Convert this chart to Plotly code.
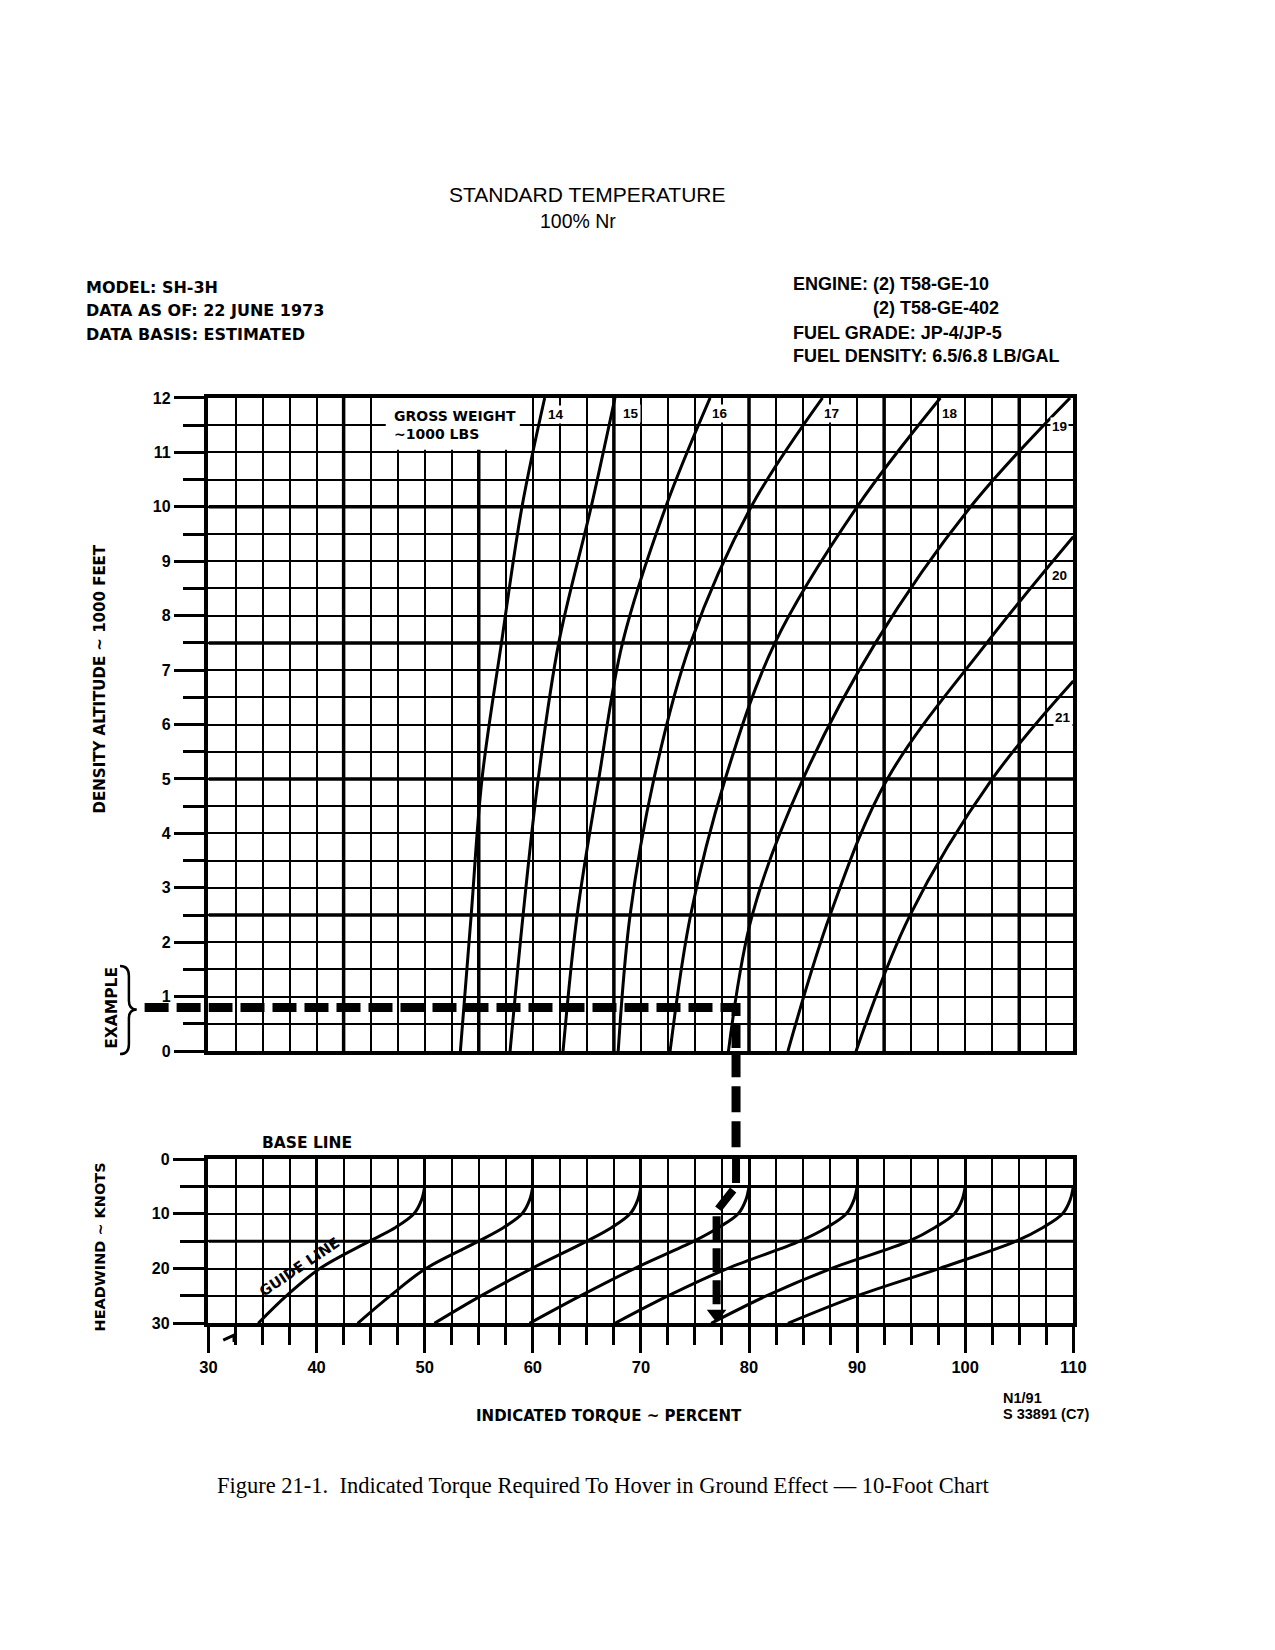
import plotly.graph_objects as go

# Upper chart: torque (%) vs density altitude (1000 ft) for each gross weight
alt = [0, 2.5, 5, 7.5, 10, 12]
gw_14 = [53.3, 54.3, 55.3, 57.1, 59.0, 61.1]
gw_15 = [57.9, 59.1, 60.5, 62.4, 65.4, 67.6]
gw_16 = [62.8, 64.1, 66.1, 68.3, 72.3, 76.4]
gw_17 = [67.9, 69.0, 71.2, 74.6, 80.2, 86.8]
gw_18 = [72.7, 74.6, 77.8, 82.4, 90.0, 97.7]
gw_19 = [78.1, 80.3, 85.0, 91.7, 100.5, 109.7]
alt_20 = [0, 2.5, 5, 7.5, 9.45]
gw_20 = [83.6, 87.5, 92.8, 102.0, 110.0]
alt_21 = [0, 2.5, 5, 6.8]
gw_21 = [89.9, 94.9, 102.5, 110.0]
gw_labels = ["14", "15", "16", "17", "18", "19", "20", "21"]

# Lower chart: headwind correction guide lines (torque % vs headwind knots)
headwind = [5, 7.5, 10, 12.5, 15, 20, 25, 30]
guide_50 = [50.0, 49.7, 49.0, 47.3, 44.9, 40.3, 37.2, 34.6]
guide_60 = [60.0, 59.7, 59.0, 57.3, 55.0, 50.1, 46.8, 43.8]
guide_70 = [70.0, 69.7, 69.0, 67.3, 65.0, 59.9, 55.2, 50.9]
guide_80 = [80.0, 79.7, 79.0, 77.2, 74.9, 69.4, 64.4, 59.7]
guide_90 = [90.0, 89.7, 89.0, 87.2, 84.7, 78.0, 72.5, 67.6]
guide_100 = [100.0, 99.7, 99.0, 97.2, 94.8, 87.6, 81.6, 76.5]
guide_110 = [110.0, 109.7, 109.0, 107.2, 104.7, 97.6, 90.0, 83.6]

# Worked example: 19,000 lb at 800 ft, 10 kt headwind -> about 77 %
ex_torque = [30, 78.8, 78.8]
ex_alt = [0.8, 0.8, 0]
ex_hw_torque = [78.8, 78.8, 77.0, 77.0]
ex_hw = [0, 5, 9.5, 27.5]
ex_result = [77.0]
ex_result_hw = [28.3]

W, H = 1275, 1650


def px(x):
    return x / W


def py(y):
    return 1 - y / H


up_dom = [py(1054), py(394)]
lo_dom = [py(1329), py(1163)]
x_dom = [px(203), px(1083)]

fig = go.Figure()

curve = dict(color="black", width=3, shape="spline")
for xs, ys in [(gw_14, alt), (gw_15, alt), (gw_16, alt), (gw_17, alt),
               (gw_18, alt), (gw_19, alt), (gw_20, alt_20), (gw_21, alt_21)]:
    fig.add_trace(go.Scatter(x=xs, y=ys, mode="lines", line=curve,
                             xaxis="x", yaxis="y", hoverinfo="skip"))

for xs in [guide_50, guide_60, guide_70, guide_80, guide_90, guide_100, guide_110]:
    fig.add_trace(go.Scatter(x=xs, y=headwind, mode="lines", line=curve,
                             xaxis="x2", yaxis="y2", hoverinfo="skip"))

# example path
ex_line = dict(color="black", width=9, dash="24px,8px")
fig.add_trace(go.Scatter(x=ex_torque, y=ex_alt, mode="lines", line=ex_line,
                         xaxis="x", yaxis="y", hoverinfo="skip"))
fig.add_trace(go.Scatter(x=ex_hw_torque, y=ex_hw, mode="lines",
                         line=dict(ex_line, width=8),
                         xaxis="x2", yaxis="y2", hoverinfo="skip"))
fig.add_trace(go.Scatter(x=ex_result, y=ex_result_hw, mode="markers", cliponaxis=False,
                         marker=dict(symbol="triangle-down", size=17, color="black"),
                         xaxis="x2", yaxis="y2", hoverinfo="skip"))

tick_font = dict(family="Liberation Sans", size=16.5, color="black", weight="bold")
frame = dict(showgrid=True, gridcolor="black", gridwidth=2, zeroline=False,
             showline=True, linecolor="black", linewidth=3.5, mirror=True,
             fixedrange=True)

fig.update_layout(
    width=W, height=H,
    margin=dict(l=0, r=0, t=0, b=0),
    paper_bgcolor="white", plot_bgcolor="white",
    showlegend=False,
    xaxis=dict(frame, domain=x_dom, range=[30, 110], anchor="y",
               tick0=30, dtick=2.5, ticks="", showticklabels=False),
    yaxis=dict(frame, domain=up_dom, range=[0, 12], anchor="x",
               tick0=0, dtick=1, ticks="outside", ticklen=31, tickwidth=2.5,
               tickcolor="black", tickfont=dict(tick_font, size=16),
               minor=dict(dtick=0.5, ticks="outside", ticklen=22, tickwidth=2.5,
                          tickcolor="black", showgrid=True, gridcolor="black",
                          gridwidth=2)),
    xaxis2=dict(frame, domain=x_dom, range=[30, 110], anchor="y2",
                tick0=30, dtick=10, ticks="outside", ticklen=26, tickwidth=2.5,
                tickcolor="black", tickfont=tick_font, gridwidth=2.5,
                minor=dict(dtick=2.5, ticks="outside", ticklen=18, tickwidth=2.5,
                           tickcolor="black", showgrid=True, gridcolor="black",
                           gridwidth=2)),
    yaxis2=dict(frame, domain=lo_dom, range=[30, 0], anchor="x2",
                tick0=0, dtick=10, ticks="outside", ticklen=32, tickwidth=2.5,
                tickcolor="black", tickfont=dict(tick_font, size=16),
                minor=dict(dtick=5, ticks="outside", ticklen=25, tickwidth=2.5,
                           tickcolor="black", showgrid=True, gridcolor="black",
                           gridwidth=2)),
)

# heavy grid lines every fifth division
shapes = []
for v in [42.5, 55, 67.5, 80, 92.5, 105]:
    shapes.append(dict(type="line", xref="x", yref="y", x0=v, x1=v, y0=0, y1=12,
                       line=dict(color="black", width=3.5), layer="between"))
for v in [2.5, 5, 7.5, 10]:
    shapes.append(dict(type="line", xref="x", yref="y", x0=30, x1=110, y0=v, y1=v,
                       line=dict(color="black", width=3.5), layer="between"))
for v in [5, 15]:
    shapes.append(dict(type="line", xref="x2", yref="y2", x0=30, x1=110, y0=v, y1=v,
                       line=dict(color="black", width=3), layer="between"))
# blank patch behind the gross weight caption
shapes.append(dict(type="rect", xref="x", yref="y", x0=46.4, x1=58.8, y0=11.05, y1=12,
                   fillcolor="white", line=dict(width=0), layer="between"))
# example line: lead-in left of the chart and the drop between the two charts
shapes.append(dict(type="line", xref="paper", yref="y", x0=px(138), x1=x_dom[0],
                   y0=ex_alt[0], y1=ex_alt[0], line=dict(ex_line)))
shapes.append(dict(type="line", xref="x", yref="paper", x0=ex_torque[-1], x1=ex_torque[-1],
                   y0=up_dom[0], y1=lo_dom[1], line=dict(ex_line, dash="26px,9px")))
# small hook mark under the lower-left corner
shapes.append(dict(type="path", xref="paper", yref="paper",
                   path=f"M {px(218)} {py(1346)} L {px(229)} {py(1341)} L {px(229)} {py(1348)}",
                   line=dict(color="black", width=3)))
# brace next to EXAMPLE
bx = [113, 122, 130]
by = [968, 978, 1003, 1012, 1021, 1047, 1057]
brace = (f"M {px(bx[0])} {py(by[0])} Q {px(bx[1])} {py(by[0])} {px(bx[1])} {py(by[1])} "
         f"L {px(bx[1])} {py(by[2])} Q {px(bx[1])} {py(by[3])} {px(bx[2])} {py(by[3])} "
         f"Q {px(bx[1])} {py(by[3])} {px(bx[1])} {py(by[4])} "
         f"L {px(bx[1])} {py(by[5])} Q {px(bx[1])} {py(by[6])} {px(bx[0])} {py(by[6])}")
shapes.append(dict(type="path", xref="paper", yref="paper", path=brace,
                   line=dict(color="black", width=2.5)))
fig.update_layout(shapes=shapes)

sans = "DejaVu Sans"
ann = []


def text(s, x, y, size=15, family=sans, anchor="center", angle=0, **kw):
    ann.append(dict(text=s, x=px(x), y=py(y), xref="paper", yref="paper",
                    showarrow=False, xanchor=anchor, yanchor="middle",
                    textangle=angle, font=dict(family=family, size=size, color="black"),
                    **kw))


text("STANDARD TEMPERATURE", 589, 188, size=21, family="Liberation Sans")
text("100% Nr", 579, 215, size=19.5, family="Liberation Sans")
text("<b>MODEL: SH-3H</b>", 76, 282, size=16, anchor="left")
text("<b>DATA AS OF: 22 JUNE 1973</b>", 76, 306, size=16, anchor="left")
text("<b>DATA BASIS: ESTIMATED</b>", 76, 330, size=16, anchor="left")
eng = "Liberation Sans"
text("<b>ENGINE: (2) T58-GE-10</b>", 796, 279, size=18, family=eng, anchor="left")
text("<b>(2) T58-GE-402</b>", 877, 303, size=18, family=eng, anchor="left")
text("<b>FUEL GRADE: JP-4/JP-5</b>", 796, 328, size=18, family=eng, anchor="left")
text("<b>FUEL DENSITY: 6.5/6.8 LB/GAL</b>", 796, 352, size=18, family=eng, anchor="left")
text("<b>DENSITY ALTITUDE ~ 1000 FEET</b>", 93, 678, size=15, angle=-90)
text("<b>HEADWIND ~ KNOTS</b>", 93, 1252, size=14.5, angle=-90)
text("<b>EXAMPLE</b>", 104, 1010, size=15.5, angle=-90)
text("<b>BASE LINE</b>", 303, 1147, size=15.5)
text("<b>INDICATED TORQUE ~ PERCENT</b>", 611, 1423, size=15)
text("<b>N1/91</b>", 1009, 1404, size=14.5, family="Liberation Sans", anchor="left")
text("<b>S 33891 (C7)</b>", 1009, 1421, size=14.5, family="Liberation Sans", anchor="left")
text("Figure 21-1.  Indicated Torque Required To Hover in Ground Effect \u2014 10-Foot Chart",
     604, 1493, size=22.5, family="Liberation Serif")

ann.append(dict(text="<b>GROSS WEIGHT</b><br><b>~1000 LBS</b>", x=47.0, y=11.5,
                xref="x", yref="y", showarrow=False, xanchor="left", yanchor="middle",
                align="left", font=dict(family=sans, size=14, color="black")))
ann.append(dict(text="<b>GUIDE LINE</b>", x=38.4, y=19.7, xref="x2", yref="y2",
                showarrow=False, textangle=-34,
                font=dict(family=sans, size=14.5, color="black")))

label_pos = [(62.1, 11.69), (69.1, 11.71), (77.3, 11.71), (87.6, 11.71),
             (98.6, 11.71), (108.7, 11.47), (108.7, 8.73), (109.0, 6.13)]
for lab, (lx, ly) in zip(gw_labels, label_pos):
    ann.append(dict(text=f"<b>{lab}</b>", x=lx, y=ly, xref="x", yref="y",
                    showarrow=False, bgcolor="white", borderpad=1,
                    font=dict(family="Liberation Sans", size=13.5, color="black")))

fig.update_layout(annotations=ann)

fig.write_html("out.html", config={"displayModeBar": False},
               post_script="document.body.style.margin='0';")
